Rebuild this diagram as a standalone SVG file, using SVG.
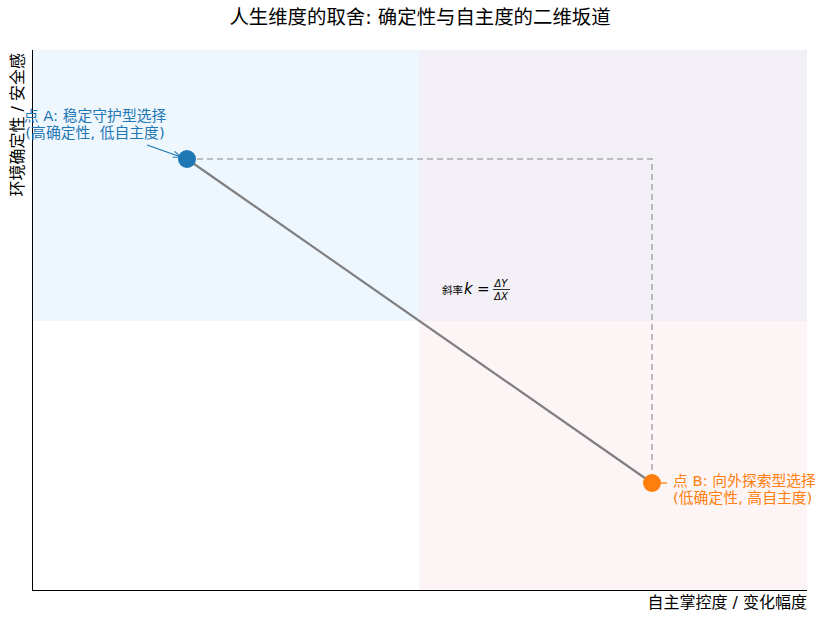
<svg xmlns="http://www.w3.org/2000/svg" width="824" height="622" viewBox="0 0 824 622">
<style>
text{font-family:"DejaVu Sans","Noto Sans CJK SC",sans-serif;}
.lab{font-size:16px;fill:#000;}
.ann{font-size:14.8px;}
</style>
<defs>
<marker id="arrB" viewBox="0 0 10 10" refX="10" refY="5" markerWidth="8" markerHeight="8" orient="auto" markerUnits="userSpaceOnUse"><path d="M0,1 L10,5 L0,9" fill="none" stroke="#1f77b4" stroke-width="1.3"/></marker>
</defs>
<rect width="824" height="622" fill="#fff"/>
<g id="quadrants">
<rect x="32" y="50" width="387" height="271" fill="#eef6fe"/>
<rect x="419" y="50" width="388" height="271" fill="#f2f0f6"/>
<rect x="419" y="321" width="388" height="269" fill="#fdf4f5"/>
</g>
<g id="axes" stroke="#000" stroke-width="1">
<line x1="32.5" y1="50" x2="32.5" y2="590.5"/>
<line x1="32" y1="590.5" x2="807" y2="590.5"/>
</g>
<text x="420" y="24" text-anchor="middle" style="font-size:19.4px">人生维度的取舍: 确定性与自主度的二维坂道</text>
<text class="lab" x="807" y="608" text-anchor="end">自主掌控度 / 变化幅度</text>
<text class="lab" transform="translate(23,53) rotate(-90)" text-anchor="end">环境确定性 / 安全感</text>
<g id="connectors">
<polyline points="187,159 652,159 652,483" fill="none" stroke="#aaaaaa" stroke-width="1.6" stroke-dasharray="6,4"/>
<line x1="187" y1="159" x2="652" y2="483" stroke="#808080" stroke-width="2.2"/>
<line x1="147" y1="145" x2="181" y2="157" stroke="#1f77b4" stroke-width="1.3" marker-end="url(#arrB)"/>
<line x1="667" y1="483" x2="661" y2="483" stroke="#ff7f0e" stroke-width="1.3"/>
</g>
<g id="pointA">
<circle cx="187" cy="159" r="9" fill="#1f77b4"/>
<text class="ann" fill="#1f77b4" x="95" y="121" text-anchor="middle">点 A: 稳定守护型选择</text>
<text class="ann" fill="#1f77b4" x="95" y="138" text-anchor="middle">(高确定性, 低自主度)</text>
</g>
<g id="pointB">
<circle cx="652" cy="483" r="9" fill="#ff7f0e"/>
<text class="ann" fill="#ff7f0e" x="673" y="486">点 B: 向外探索型选择</text>
<text class="ann" fill="#ff7f0e" x="673" y="503">(低确定性, 高自主度)</text>
</g>
<g id="slope">
<text x="442" y="294" style="font-size:10.5px">斜率</text>
<text x="464" y="294" style="font-size:15px;font-style:italic">k</text>
<text x="477" y="294" style="font-size:15px">=</text>
<text x="501" y="287" text-anchor="middle" style="font-size:10px;font-style:italic">ΔY</text>
<line x1="493" y1="289.5" x2="510" y2="289.5" stroke="#000" stroke-width="0.8"/>
<text x="501" y="300" text-anchor="middle" style="font-size:10px;font-style:italic">ΔX</text>
</g>
</svg>
